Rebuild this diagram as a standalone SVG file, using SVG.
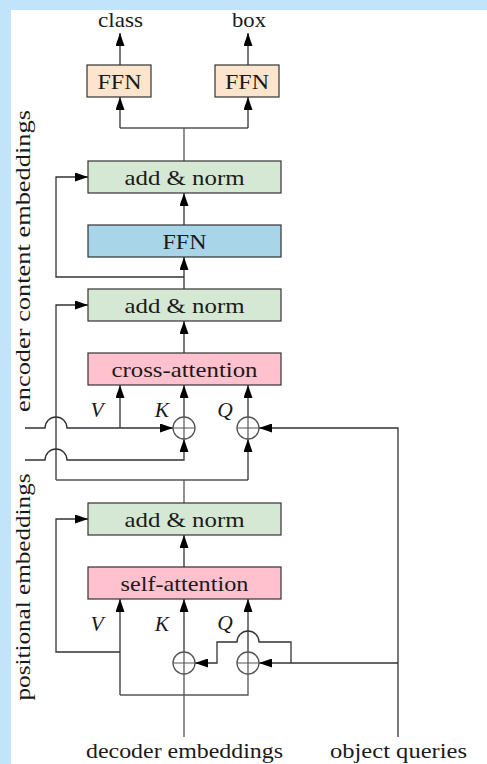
<svg xmlns="http://www.w3.org/2000/svg" width="487" height="764" viewBox="0 0 487 764">
  <style>
    .box { stroke: #333; stroke-width: 1.2; }
    .ffn-out { fill: #fde4cd; }
    .norm { fill: #d5e8d4; }
    .ffn { fill: #a8d5e7; }
    .attn { fill: #ffc1cd; }
    .lbl { font-family: "Liberation Serif", "DejaVu Serif", serif; font-size: 21.5px; fill: #1a1a1a; text-anchor: middle; }
    .it { font-style: italic; }
    .wire { fill: none; stroke: #555; stroke-width: 1.3; }
    .arr { fill: none; stroke: #333; stroke-width: 1.3; marker-end: url(#head); }
    .sum circle { fill: #fff; stroke: #555; stroke-width: 1.3; }
    .sum path { stroke: #555; stroke-width: 1.2; }
  </style>
  <defs>
    <marker id="head" viewBox="0 0 13 9" refX="13" refY="4.5" markerWidth="13" markerHeight="9" markerUnits="userSpaceOnUse" orient="auto">
      <path d="M0,0 L13,4.5 L0,9 Z" fill="#000"/>
    </marker>
  </defs>

  <!-- page -->
  <rect x="0" y="0" width="487" height="764" fill="#c2e4fb"/>
  <rect x="11" y="10" width="476" height="754" fill="#fff"/>

  <!-- side labels -->
  <text class="lbl" transform="translate(30,261) rotate(-90)" textLength="302" lengthAdjust="spacingAndGlyphs">encoder content embeddings</text>
  <text class="lbl" transform="translate(30,587) rotate(-90)" textLength="227" lengthAdjust="spacingAndGlyphs">positional embeddings</text>

  <!-- connectors -->
  <g id="connectors">
    <!-- outputs -->
    <path class="arr" d="M120,65 V33"/>
    <path class="arr" d="M248,65 V33"/>
    <path class="wire" d="M184,161 V128 M120,128 H248"/>
    <path class="arr" d="M120,128 V97"/>
    <path class="arr" d="M248,128 V97"/>

    <!-- decoder layer, upper half -->
    <path class="arr" d="M184,225 V193"/>
    <path class="arr" d="M184,289 V257"/>
    <path class="arr" d="M184,277 H56 V177 H88"/>
    <path class="arr" d="M184,353 V321"/>
    <path class="arr" d="M56,480 V305 H88"/>

    <!-- cross-attention inputs -->
    <path class="arr" d="M120,428 V385"/>
    <path class="arr" d="M184,417 V385"/>
    <path class="arr" d="M248,417 V385"/>
    <path class="arr" d="M25,428 H45 A11,11 0 0 1 67,428 H173"/>
    <path class="arr" d="M25,460 H45 A11,11 0 0 1 67,460 H184 V439"/>
    <path class="wire" d="M56,480 H248"/>
    <path class="arr" d="M248,480 V439"/>
    <path class="wire" d="M184,503 V480"/>
    <path class="arr" d="M398,737 V428 H259"/>

    <!-- decoder layer, lower half -->
    <path class="arr" d="M184,567 V535"/>
    <path class="arr" d="M120,652 H56 V519 H88"/>
    <path class="arr" d="M120,695 V599"/>
    <path class="arr" d="M184,652 V599"/>
    <path class="arr" d="M248,652 V599"/>
    <path class="wire" d="M184,737 V674 M120,695 H248 V674"/>
    <path class="arr" d="M398,663 H259"/>
    <path class="arr" d="M291,663 V642 H259 A11,11 0 0 0 237,642 H217 V663 H195"/>
  </g>

  <!-- adders -->
  <g id="add-k-cross" class="sum"><circle cx="184" cy="428" r="11"/><path d="M173,428 H195 M184,417 V439"/></g>
  <g id="add-q-cross" class="sum"><circle cx="248" cy="428" r="11"/><path d="M237,428 H259 M248,417 V439"/></g>
  <g id="add-k-self" class="sum"><circle cx="184" cy="663" r="11"/><path d="M173,663 H195 M184,652 V674"/></g>
  <g id="add-q-self" class="sum"><circle cx="248" cy="663" r="11"/><path d="M237,663 H259 M248,652 V674"/></g>

  <!-- prediction heads -->
  <g id="ffn-class">
    <rect class="box ffn-out" x="87" y="65" width="64" height="32"/>
    <text class="lbl" x="119.5" y="89" textLength="44" lengthAdjust="spacingAndGlyphs">FFN</text>
  </g>
  <g id="ffn-box">
    <rect class="box ffn-out" x="215" y="65" width="64" height="32"/>
    <text class="lbl" x="247" y="89" textLength="44" lengthAdjust="spacingAndGlyphs">FFN</text>
  </g>
  <g id="out-class"><text class="lbl" x="120.5" y="27" textLength="45" lengthAdjust="spacingAndGlyphs">class</text></g>
  <g id="out-box"><text class="lbl" x="249" y="27" textLength="34" lengthAdjust="spacingAndGlyphs">box</text></g>

  <!-- decoder layer blocks -->
  <g id="norm-3">
    <rect class="box norm" x="88" y="161" width="193" height="32"/>
    <text class="lbl" x="184.5" y="185" textLength="120" lengthAdjust="spacingAndGlyphs">add &amp; norm</text>
  </g>
  <g id="ffn">
    <rect class="box ffn" x="88" y="225" width="193" height="32"/>
    <text class="lbl" x="184.5" y="249" textLength="44" lengthAdjust="spacingAndGlyphs">FFN</text>
  </g>
  <g id="norm-2">
    <rect class="box norm" x="88" y="289" width="193" height="32"/>
    <text class="lbl" x="184.5" y="313" textLength="120" lengthAdjust="spacingAndGlyphs">add &amp; norm</text>
  </g>
  <g id="cross-attention">
    <rect class="box attn" x="88" y="353" width="193" height="32"/>
    <text class="lbl" x="184.5" y="377" textLength="146" lengthAdjust="spacingAndGlyphs">cross-attention</text>
  </g>
  <g id="norm-1">
    <rect class="box norm" x="88" y="503" width="193" height="32"/>
    <text class="lbl" x="184.5" y="527" textLength="120" lengthAdjust="spacingAndGlyphs">add &amp; norm</text>
  </g>
  <g id="self-attention">
    <rect class="box attn" x="88" y="567" width="193" height="32"/>
    <text class="lbl" x="184.5" y="591" textLength="128" lengthAdjust="spacingAndGlyphs">self-attention</text>
  </g>

  <!-- input labels -->
  <g id="labels-cross">
    <text class="lbl it" x="97" y="417">V</text>
    <text class="lbl it" x="162" y="417">K</text>
    <text class="lbl it" x="225" y="417">Q</text>
  </g>
  <g id="labels-self">
    <text class="lbl it" x="97" y="631">V</text>
    <text class="lbl it" x="162" y="631">K</text>
    <text class="lbl it" x="225" y="630">Q</text>
  </g>
  <g id="in-decoder"><text class="lbl" x="184.5" y="758" textLength="197" lengthAdjust="spacingAndGlyphs">decoder embeddings</text></g>
  <g id="in-queries"><text class="lbl" x="398.5" y="758" textLength="137" lengthAdjust="spacingAndGlyphs">object queries</text></g>
</svg>
